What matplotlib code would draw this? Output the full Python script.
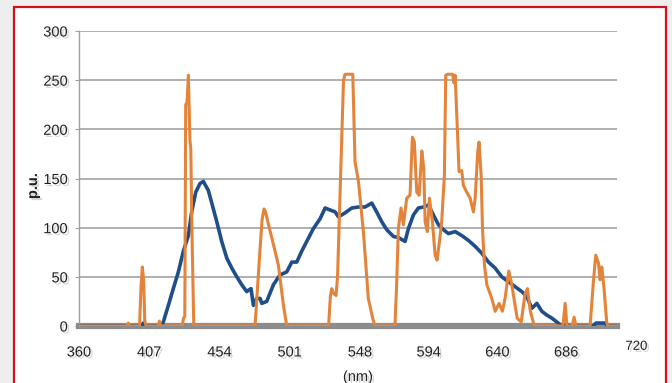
import matplotlib
matplotlib.use('Agg')
import matplotlib.pyplot as plt
import matplotlib.patheffects as pe
from matplotlib.patches import Rectangle

# spectrum 1 (blue)
blue_nm = [360, 402, 403, 404, 415.5, 416.4, 419.8, 423.1, 426.5, 429.8, 433.2, 435.4,
           438.1, 441, 443.2, 446.5, 449.2, 452.2, 455.5, 458.9, 462.2, 465.6, 468.9,
           472.2, 475.1, 476.7, 478.9, 481.2, 482.3, 485.6, 490.1, 494.5, 499, 502.4,
           505.7, 509, 512.4, 516.8, 521.3, 524.7, 528, 531.4, 533.6, 538, 542.5, 547,
           551.4, 555.9, 559.2, 562.6, 565.9, 570.4, 573.7, 578.2, 580.4, 583.8, 587.1,
           590.5, 593.8, 597.1, 600.5, 603.8, 607.2, 611.7, 616.1, 620.6, 625.1, 629.5,
           634, 638.4, 642.9, 647.4, 651.8, 656.3, 659.6, 663, 666.4, 669.7, 673.1,
           676.4, 679.8, 683.1, 686, 688, 704, 706, 712, 714, 720]
blue_val = [0, 0, 3, 0, 0, 4, 21, 38, 55, 76, 92, 116,
            136, 145, 147, 138, 123, 106, 86, 69, 59, 50, 42,
            35, 38, 21, 28, 28, 23, 25, 42, 52, 55, 65,
            65, 76, 86, 99, 109, 120, 118, 116, 111, 115, 120, 121,
            121, 125, 116, 106, 98, 91, 90, 86, 99, 113, 120,
            121, 123, 113, 103, 98, 94, 96, 92, 87, 81, 74,
            65, 59, 50, 45, 40, 35, 30, 18, 23, 15, 11,
            8, 4, 0, 2, 0, 0, 3, 3, 0, 0]

# spectrum 2 (orange)
orange_nm = [360, 392, 393, 394, 400.5, 401.5, 402.4, 403.3, 404, 405, 413, 413.8, 414.6,
             429, 430, 430.8, 431.4, 432.3, 433.2, 434.2, 434.8, 435.6, 436.8,
             477.8, 479.5, 481, 482.5, 483.8, 485, 486.5, 489.6, 493.4, 496.8, 499,
             527, 528.2, 529.1, 530.5, 532, 533, 535, 537, 538, 543.2, 544.7, 547,
             550.3, 553.6, 556.5, 558,
             571.4, 572.5, 573.7, 575.5, 577.1, 579.3, 581.5, 583.1, 584.4, 586, 587.6,
             589.4, 590.7, 591.6, 593.1, 594.5, 596.5, 598.3, 599.6, 601.2, 602.7, 604.5,
             605.4, 606.5, 610, 611, 611.7, 612.8, 614.3, 616.1, 617.2, 619.5, 621.7,
             623.9, 625.1, 626.8, 627.7, 629.1, 630, 631.3, 632.9, 636.2, 638.5, 641.1,
             643.3, 645.1, 647.6, 649.6, 651.8, 653.2, 655.9, 658.5, 660.1, 661.9, 664.1,
             665, 683.8, 685.3, 686.5, 690, 691.3, 692.5, 702, 704.3, 705.8, 707.6, 708.7,
             709.8, 711.4, 713.1, 714, 720]
orange_val = [0, 0, 3, 0, 0, 40, 60, 45, 5, 0, 0, 5, 0,
              0, 8, 10, 225, 228, 255, 190, 180, 96, 0,
              0, 40, 75, 108, 119, 115, 105, 86, 62, 21, 0,
              0, 30, 38, 33, 31, 50, 150, 250, 256, 256, 167, 147,
              96, 28, 8, 0,
              0, 40, 99, 120, 103, 130, 133, 192, 187, 136, 133,
              178, 160, 106, 96, 130, 106, 72, 67, 86, 106, 153,
              255, 256, 256, 247, 255, 214, 157, 158, 143, 136, 130,
              116, 130, 177, 187, 153, 99, 62, 42, 28, 15, 23,
              15, 28, 56, 42, 21, 8, 4, 33, 38, 16, 3,
              0, 0, 23, 0, 0, 9, 0, 0, 47, 72, 64, 47,
              60, 37, 4, 0, 0]

x_ticks = [360, 407, 454, 501, 548, 594, 640, 686]
y_ticks = [0, 50, 100, 150, 200, 250, 300]

plt.rcParams['font.family'] = ['Liberation Sans Narrow', 'Liberation Sans', 'DejaVu Sans']

fig = plt.figure(figsize=(6.72, 3.83), dpi=100, facecolor='#eeeeee')

# white panel with red frame, kept behind the axes
frame = Rectangle((14 / 672, -0.05), (666 - 14) / 672, 1.05 - 7 / 383,
                  transform=fig.transFigure, facecolor='white',
                  edgecolor='#d0101c', linewidth=1.6, zorder=-10)
fig.patches.append(frame)

ax = fig.add_axes([79 / 672, 1 - 326 / 383, (617 - 79) / 672, (326 - 31) / 383])
ax.set_facecolor('none')

shadow = [pe.SimplePatchShadow(offset=(1.5, -1.5), shadow_rgbFace='0.55', alpha=0.35),
          pe.Normal()]

ax.plot(blue_nm, blue_val, color='#1f4e89', linewidth=2.6, zorder=3)
ax.plot(orange_nm, orange_val, color='#e4843a', linewidth=2.2, zorder=4)

ax.set_xlim(360, 720)
ax.set_ylim(0, 300)
ax.set_xticks(x_ticks)
ax.set_xticklabels([str(v) for v in x_ticks])
ax.set_yticks(y_ticks)

ax.yaxis.grid(True, color='#9a9a9a', linewidth=1.1)
ax.set_axisbelow(True)

for side in ['top', 'right']:
    ax.spines[side].set_visible(False)
ax.spines['left'].set_color('#a0a0a0')
ax.spines['left'].set_linewidth(1.0)
ax.spines['bottom'].set_color('#8c8c8c')
ax.spines['bottom'].set_linewidth(4.5)
ax.spines['bottom'].set_zorder(2)

ax.tick_params(axis='y', length=3, color='#a0a0a0', pad=5, labelsize=10.5,
               labelcolor='#222222')
ax.tick_params(axis='x', length=0, pad=14, labelsize=10.5, labelcolor='#222222')
for lbl in ax.get_xticklabels() + ax.get_yticklabels():
    lbl.set_path_effects(shadow)

# last wavelength label sits past the end of the axis
ax.annotate('720', xy=(720, 0), xytext=(14, -15), textcoords='offset points',
            ha='center', va='center', fontsize=9.5, color='#222222',
            path_effects=shadow, annotation_clip=False)

fig.text(358 / 672, 1 - 377 / 383, '(nm)', ha='center', va='center',
         fontsize=10.5, color='#222222', path_effects=shadow)
fig.text(33 / 672, 1 - 186 / 383, 'p.u.', ha='center', va='center', rotation=90,
         fontsize=10.5, fontweight='bold', color='#222222', path_effects=shadow)

fig.savefig('out.png', dpi=100, facecolor=fig.get_facecolor())
plt.close(fig)
